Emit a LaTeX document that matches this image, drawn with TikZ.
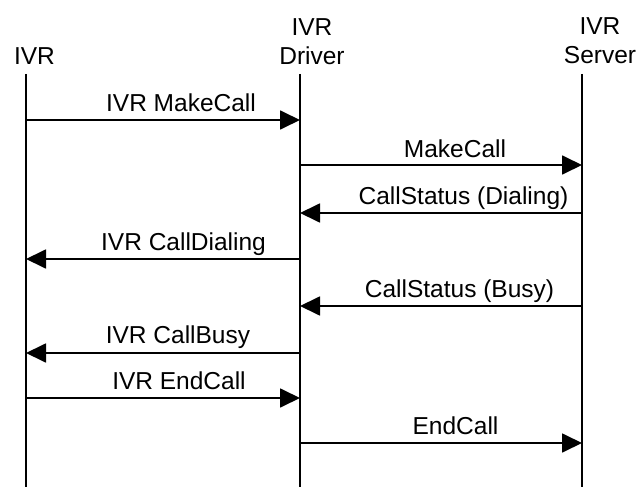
\documentclass[tikz,border=0pt]{standalone}
\usepackage{fontspec}
\setmainfont{Liberation Sans}
\usetikzlibrary{arrows.meta}
\begin{document}
\begin{tikzpicture}[x=1pt,y=-1pt,
  lifeline/.style={line width=1.6pt},
  msg/.style={line width=1.8pt,-{Triangle[length=20pt,width=19pt]}},
  hdr/.style={font=\fontsize{24.5}{29.5}\selectfont,align=center,inner sep=0pt,anchor=base},
  lbl/.style={font=\fontsize{24.5}{29.5}\selectfont,inner sep=0pt,anchor=base}]
\useasboundingbox (0,0) rectangle (643,487);
% headers
\node[hdr] (hIVR) at (34.5,65) {IVR};
\node[hdr] (hDRV) at (312,65) {IVR\\Driver};
\node[hdr] (hSRV) at (600,64) {IVR\\Server};
% lifelines
\coordinate (ivr) at (26,74);
\coordinate (drv) at (300,74);
\coordinate (srv) at (582,74);
\coordinate (bot) at (0,487);
\draw[lifeline] (ivr) -- (ivr |- bot);
\draw[lifeline] (drv) -- (drv |- bot);
\draw[lifeline] (srv) -- (srv |- bot);
% message rows
\coordinate (y1) at (0,120);
\coordinate (y2) at (0,165);
\coordinate (y3) at (0,213);
\coordinate (y4) at (0,259);
\coordinate (y5) at (0,306);
\coordinate (y6) at (0,353);
\coordinate (y7) at (0,398);
\coordinate (y8) at (0,443);
% messages
\draw[msg] (ivr |- y1) -- (drv |- y1);
\node[lbl] (l1) at (181,111) {IVR MakeCall};
\draw[msg] (drv |- y2) -- (srv |- y2);
\node[lbl] (l2) at (455,157) {MakeCall};
\draw[msg] (srv |- y3) -- (drv |- y3);
\node[lbl] (l3) at (463.5,204) {CallStatus (Dialing)};
\draw[msg] (drv |- y4) -- (ivr |- y4);
\node[lbl] (l4) at (183.5,250) {IVR CallDialing};
\draw[msg] (srv |- y5) -- (drv |- y5);
\node[lbl] (l5) at (459.5,297) {CallStatus (Busy)};
\draw[msg] (drv |- y6) -- (ivr |- y6);
\node[lbl] (l6) at (178,343) {IVR CallBusy};
\draw[msg] (ivr |- y7) -- (drv |- y7);
\node[lbl] (l7) at (179,389) {IVR EndCall};
\draw[msg] (drv |- y8) -- (srv |- y8);
\node[lbl] (l8) at (455.5,434) {EndCall};
\end{tikzpicture}
\end{document}
